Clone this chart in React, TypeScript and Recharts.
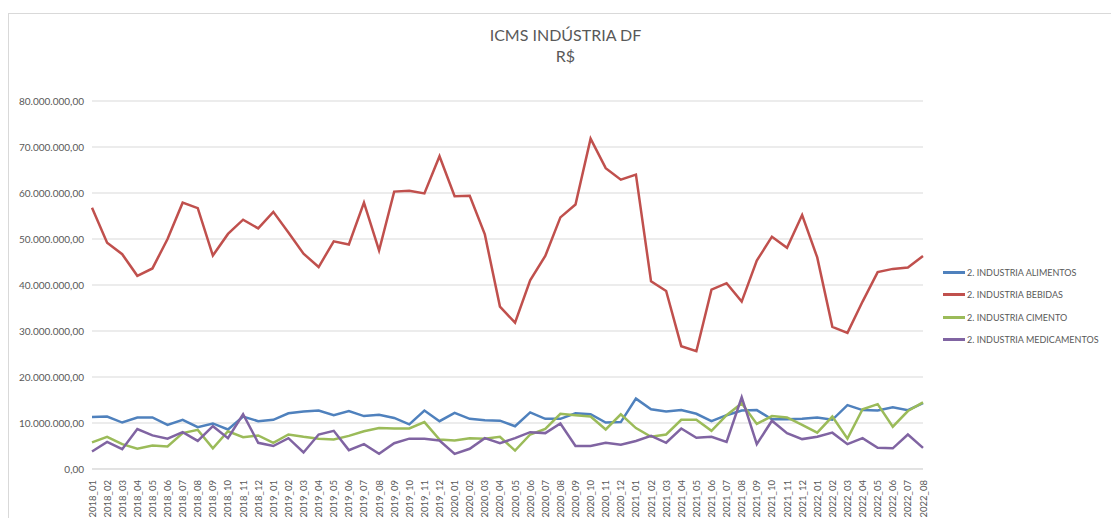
import { LineChart, Line, XAxis, YAxis, CartesianGrid } from 'recharts'

const months = [
  '2018_01', '2018_02', '2018_03', '2018_04', '2018_05', '2018_06', '2018_07', '2018_08', '2018_09', '2018_10', '2018_11', '2018_12',
  '2019_01', '2019_02', '2019_03', '2019_04', '2019_05', '2019_06', '2019_07', '2019_08', '2019_09', '2019_10', '2019_11', '2019_12',
  '2020_01', '2020_02', '2020_03', '2020_04', '2020_05', '2020_06', '2020_07', '2020_08', '2020_09', '2020_10', '2020_11', '2020_12',
  '2021_01', '2021_02', '2021_03', '2021_04', '2021_05', '2021_06', '2021_07', '2021_08', '2021_09', '2021_10', '2021_11', '2021_12',
  '2022_01', '2022_02', '2022_03', '2022_04', '2022_05', '2022_06', '2022_07', '2022_08',
]

// values in millions of R$
const alimentos = [
  11.3, 11.4, 10.1, 11.2, 11.2, 9.6, 10.7, 9.1, 9.9, 8.6, 11.4, 10.4,
  10.7, 12.1, 12.5, 12.7, 11.7, 12.6, 11.5, 11.8, 11.1, 9.7, 12.7, 10.4,
  12.2, 10.9, 10.6, 10.5, 9.3, 12.3, 10.9, 10.9, 12.1, 11.9, 10.1, 10.2,
  15.3, 13.0, 12.5, 12.8, 12.0, 10.4, 11.7, 12.7, 12.8, 10.8, 10.8, 10.9,
  11.2, 10.7, 13.9, 12.8, 12.7, 13.4, 12.8, 14.3,
]
const bebidas = [
  56.8, 49.2, 46.7, 42.0, 43.6, 50.0, 57.9, 56.7, 46.4, 51.1, 54.2, 52.3,
  55.9, 51.4, 46.8, 43.9, 49.5, 48.8, 57.9, 47.5, 60.3, 60.5, 59.9, 68.0,
  59.3, 59.4, 51.0, 35.3, 31.8, 41.0, 46.3, 54.7, 57.5, 71.8, 65.4, 62.9,
  64.0, 40.8, 38.7, 26.7, 25.6, 39.0, 40.4, 36.4, 45.3, 50.5, 48.1, 55.2,
  46.0, 30.9, 29.6, 36.4, 42.8, 43.5, 43.8, 46.3,
]
const cimento = [
  5.8, 7.0, 5.4, 4.4, 5.1, 4.9, 7.8, 8.5, 4.5, 8.2, 6.9, 7.3,
  5.7, 7.5, 7.0, 6.6, 6.4, 7.2, 8.2, 8.9, 8.8, 8.8, 10.2, 6.4,
  6.2, 6.7, 6.6, 7.0, 4.0, 7.5, 8.7, 12.0, 11.7, 11.4, 8.6, 11.9,
  8.9, 7.0, 7.5, 10.7, 10.7, 8.3, 11.7, 14.3, 9.8, 11.5, 11.2, 9.6,
  7.9, 11.4, 6.6, 13.0, 14.1, 9.2, 12.6, 14.5,
]
const medicamentos = [
  3.8, 5.9, 4.3, 8.7, 7.3, 6.6, 8.0, 6.1, 9.3, 6.7, 11.9, 5.7,
  5.0, 6.7, 3.6, 7.5, 8.3, 4.1, 5.4, 3.3, 5.6, 6.6, 6.6, 6.2,
  3.3, 4.4, 6.7, 5.6, 6.7, 8.0, 7.8, 9.9, 5.0, 5.0, 5.7, 5.3,
  6.1, 7.2, 5.7, 8.8, 6.8, 7.0, 5.9, 15.6, 5.4, 10.5, 7.8, 6.5,
  7.0, 7.9, 5.4, 6.7, 4.6, 4.5, 7.5, 4.6,
]

const yTicks = [0, 10, 20, 30, 40, 50, 60, 70, 80].map(v => v * 1_000_000)

const series = [
  { key: 'alimentos', name: '2. INDUSTRIA ALIMENTOS', color: '#4F81BD' },
  { key: 'bebidas', name: '2. INDUSTRIA BEBIDAS', color: '#C0504D' },
  { key: 'cimento', name: '2. INDUSTRIA CIMENTO', color: '#9BBB59' },
  { key: 'medicamentos', name: '2. INDUSTRIA MEDICAMENTOS', color: '#8064A2' },
]

const data = months.map((m, i) => ({
  month: m,
  alimentos: alimentos[i] * 1_000_000,
  bebidas: bebidas[i] * 1_000_000,
  cimento: cimento[i] * 1_000_000,
  medicamentos: medicamentos[i] * 1_000_000,
}))

const FONT = 'Lato, "Open Sans", sans-serif'
const TEXT = '#595959'

function formatBR(v: number) {
  const int = Math.round(v).toString().replace(/\B(?=(\d{3})+(?!\d))/g, '.')
  return int + ',00'
}

// eslint-disable-next-line @typescript-eslint/no-explicit-any
function MonthTick({ x, y, payload }: any) {
  return (
    <text
      x={x}
      y={y}
      transform={`rotate(-90, ${x}, ${y})`}
      dx={-3}
      dy={3.5}
      textAnchor="end"
      fill={TEXT}
      fontSize={9.5}
      fontFamily={FONT}
    >
      {payload.value}
    </text>
  )
}

export default function App() {
  return (
    <div style={{ position: 'absolute', left: 0, top: 0, width: 1111, height: 518, background: '#fff', overflow: 'hidden' }}>
      <div style={{ position: 'absolute', left: 8, top: 13, width: 1120, height: 520, border: '1px solid #d9d9d9' }} />
      <div style={{ position: 'absolute', left: 0, top: 24, width: 1131, textAlign: 'center', fontFamily: FONT, color: TEXT, fontSize: 16, lineHeight: '21px' }}>
        <div>ICMS INDÚSTRIA DF</div>
        <div>R$</div>
      </div>
      <LineChart
        width={1111}
        height={518}
        data={data}
        margin={{ top: 101, right: 188, left: 0, bottom: 0 }}
        style={{ position: 'absolute', left: 0, top: 0 }}
      >
        <CartesianGrid vertical={false} stroke="#d9d9d9" />
        <XAxis
          dataKey="month"
          interval={0}
          height={49}
          tick={<MonthTick />}
          tickLine={false}
          axisLine={{ stroke: '#d9d9d9' }}
        />
        <YAxis
          width={92}
          domain={[0, 80_000_000]}
          ticks={yTicks}
          tickFormatter={formatBR}
          axisLine={false}
          tickLine={false}
          tick={{ fill: TEXT, fontSize: 10, fontFamily: FONT }}
        />
        {series.map(s => (
          <Line
            key={s.key}
            type="linear"
            dataKey={s.key}
            name={s.name}
            stroke={s.color}
            strokeWidth={2.5}
            dot={false}
            isAnimationActive={false}
          />
        ))}
      </LineChart>
      <div style={{ position: 'absolute', left: 943, top: 261, fontFamily: FONT, color: TEXT, fontSize: 9, whiteSpace: 'nowrap' }}>
        {series.map(s => (
          <div key={s.key} style={{ display: 'flex', alignItems: 'center', height: 22.5 }}>
            <span style={{ display: 'inline-block', width: 22, height: 3, background: s.color, marginRight: 2 }} />
            <span>{s.name}</span>
          </div>
        ))}
      </div>
    </div>
  )
}
